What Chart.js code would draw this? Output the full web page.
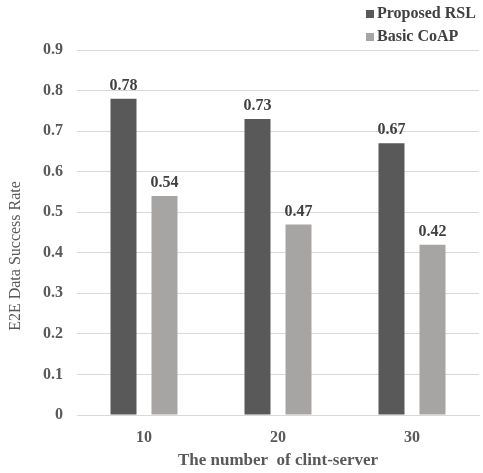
<!DOCTYPE html>
<html>
<head>
<meta charset="utf-8">
<script src="https://cdn.jsdelivr.net/npm/chart.js"></script>
<style>
  html, body { margin: 0; padding: 0; background: #fff; }
  #wrap { position: relative; width: 483px; height: 473px; }
</style>
</head>
<body>
<div id="wrap"><canvas id="chart" width="483" height="473"></canvas></div>
<script>
const categories = ['10', '20', '30'];
const seriesNames = ['Proposed RSL', 'Basic CoAP'];
const proposedRSL = [0.78, 0.73, 0.67];
const basicCoAP = [0.54, 0.47, 0.42];
const yTicks = [0, 0.1, 0.2, 0.3, 0.4, 0.5, 0.6, 0.7, 0.8, 0.9];
const yTitle = 'E2E Data Success Rate';

const serif = "'Liberation Serif', 'Times New Roman', serif";
const colors = ['#595959', '#a7a4a4'];

// value printed above every bar
const valueLabels = {
  id: 'valueLabels',
  afterDatasetsDraw(chart) {
    const ctx = chart.ctx;
    ctx.save();
    ctx.font = 'bold 16px ' + serif;
    ctx.fillStyle = '#404040';
    ctx.textAlign = 'center';
    ctx.textBaseline = 'bottom';
    chart.data.datasets.forEach((ds, i) => {
      chart.getDatasetMeta(i).data.forEach((bar, j) => {
        ctx.fillText(ds.data[j].toFixed(2), bar.x, bar.y - 5);
      });
    });
    ctx.restore();
  }
};

// stacked legend in the top right corner + rotated y title
const extras = {
  id: 'extras',
  afterDraw(chart) {
    const ctx = chart.ctx;
    ctx.save();
    ctx.font = 'bold 16px ' + serif;
    ctx.textBaseline = 'middle';
    chart.data.datasets.forEach((ds, i) => {
      const y = 14 + i * 23;
      ctx.fillStyle = ds.backgroundColor;
      ctx.fillRect(366, y - 4, 8, 8);
      ctx.fillStyle = '#404040';
      ctx.fillText(ds.label, 377, y);
    });

    ctx.translate(16, 256);
    ctx.rotate(-Math.PI / 2);
    ctx.font = '16px ' + serif;
    ctx.fillStyle = '#595959';
    ctx.textAlign = 'center';
    ctx.fillText(yTitle, 0, 0);
    ctx.restore();
  }
};

new Chart(document.getElementById('chart'), {
  type: 'bar',
  data: {
    labels: categories,
    datasets: [
      { label: seriesNames[0], data: proposedRSL, backgroundColor: colors[0] },
      { label: seriesNames[1], data: basicCoAP, backgroundColor: colors[1] }
    ]
  },
  options: {
    responsive: false,
    animation: false,
    events: [],
    layout: { padding: { top: 50, right: 4, left: 6, bottom: 0 } },
    datasets: { bar: { categoryPercentage: 0.612, barPercentage: 0.634 } },
    plugins: {
      legend: { display: false },
      tooltip: { enabled: false }
    },
    scales: {
      x: {
        afterFit: s => { s.height = 58; },
        grid: { display: false },
        border: { color: '#d9d9d9' },
        ticks: { color: '#595959', padding: 5, font: { family: serif, size: 16, weight: 'bold' } },
        title: {
          display: true,
          text: 'The number  of clint-server',
          color: '#595959',
          padding: { top: 4, bottom: 2 },
          font: { family: serif, size: 17, weight: 'bold' }
        }
      },
      y: {
        min: 0,
        max: 0.9,
        afterFit: s => { s.width = 71; },
        afterBuildTicks: s => { s.ticks = yTicks.map(v => ({ value: v })); },
        grid: { color: '#d9d9d9', drawTicks: false },
        border: { display: false },
        ticks: {
          color: '#595959',
          padding: 14,
          font: { family: serif, size: 16, weight: 'bold' },
          callback: v => (v === 0 ? '0' : v.toFixed(1))
        }
      }
    }
  },
  plugins: [valueLabels, extras]
});
</script>
</body>
</html>
